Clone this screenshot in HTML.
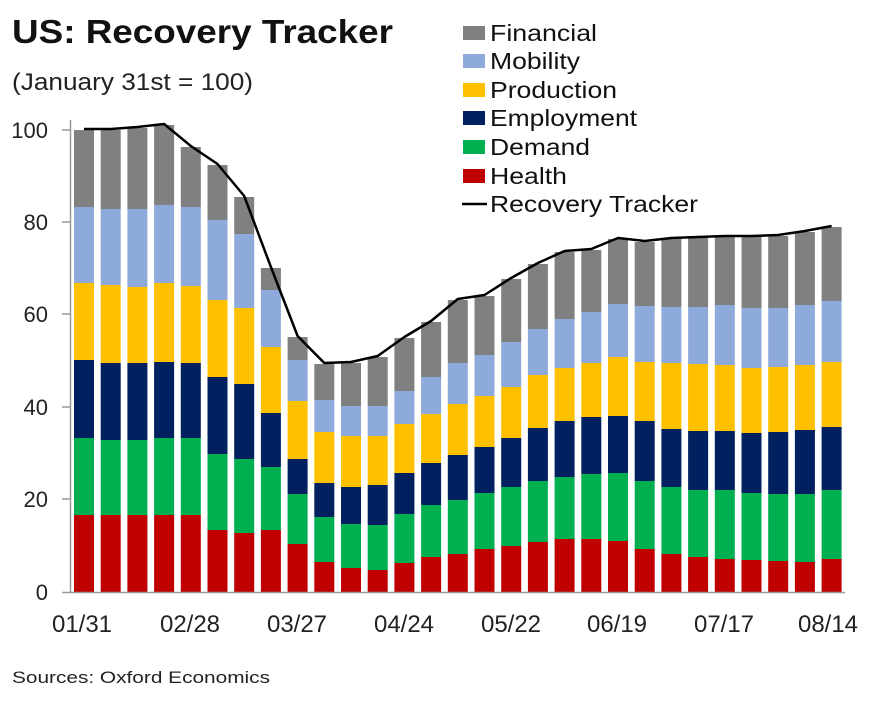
<!DOCTYPE html>
<html><head><meta charset="utf-8"><style>body{margin:0;background:#fff}svg{display:block}</style></head><body>
<svg id="s" width="888" height="710" xmlns="http://www.w3.org/2000/svg" font-family="Liberation Sans, Arial, sans-serif">
<rect width="888" height="710" fill="#fff"/>
<g id="bars"></g>
<line x1="70.5" y1="120" x2="70.5" y2="592" stroke="#999" stroke-width="1.5"/>
<line x1="62" y1="592.5" x2="845" y2="592.5" stroke="#999" stroke-width="1.5"/>
<g stroke="#999" stroke-width="1.5">
<line x1="62" y1="130" x2="70" y2="130"/><line x1="62" y1="222" x2="70" y2="222"/><line x1="62" y1="314" x2="70" y2="314"/><line x1="62" y1="407" x2="70" y2="407"/><line x1="62" y1="499" x2="70" y2="499"/>
</g>
<polyline id="ln" fill="none" stroke="#000" stroke-width="2.5" stroke-linejoin="round"/>
<g font-size="22" fill="#222" text-anchor="end">
<text x="48" y="138">100</text><text x="48" y="230">80</text><text x="48" y="322">60</text><text x="48" y="415">40</text><text x="48" y="507">20</text><text x="48" y="600">0</text>
</g>
<g font-size="24" fill="#222" text-anchor="middle">
<text x="82" y="632">01/31</text><text x="190" y="632">02/28</text><text x="297" y="632">03/27</text><text x="404" y="632">04/24</text><text x="511" y="632">05/22</text><text x="617" y="632">06/19</text><text x="724" y="632">07/17</text><text x="828" y="632">08/14</text>
</g>
<text x="12" y="43" font-size="33" font-weight="bold" fill="#111" textLength="381" lengthAdjust="spacingAndGlyphs">US: Recovery Tracker</text>
<text x="12" y="90" font-size="24" fill="#222" textLength="241" lengthAdjust="spacingAndGlyphs">(January 31st = 100)</text>
<text x="12" y="683" font-size="17" fill="#222" textLength="258" lengthAdjust="spacingAndGlyphs">Sources: Oxford Economics</text>
<g font-size="23" fill="#111">
<rect x="463" y="26" width="22" height="14" fill="#808080"/><text x="490" y="41" textLength="107" lengthAdjust="spacingAndGlyphs">Financial</text>
<rect x="463" y="54" width="22" height="14" fill="#8eaadb"/><text x="490" y="69" textLength="90" lengthAdjust="spacingAndGlyphs">Mobility</text>
<rect x="463" y="83" width="22" height="14" fill="#ffc000"/><text x="490" y="98" textLength="127" lengthAdjust="spacingAndGlyphs">Production</text>
<rect x="463" y="111" width="22" height="14" fill="#002060"/><text x="490" y="126" textLength="147" lengthAdjust="spacingAndGlyphs">Employment</text>
<rect x="463" y="140" width="22" height="14" fill="#00b050"/><text x="490" y="155" textLength="100" lengthAdjust="spacingAndGlyphs">Demand</text>
<rect x="463" y="169" width="22" height="14" fill="#c00000"/><text x="490" y="184" textLength="77" lengthAdjust="spacingAndGlyphs">Health</text>
<line x1="462" y1="204" x2="487" y2="204" stroke="#000" stroke-width="2.5"/><text x="490" y="212" textLength="208" lengthAdjust="spacingAndGlyphs">Recovery Tracker</text>
</g>
</svg>
<script>
var d=[[515,438,360,283,207,130],[515,440,363,285,209,130],[515,440,363,287,209,128],[515,438,362,283,205,125],[515,438,363,286,207,147],[530,454,377,300,220,165],[533,459,384,308,234,197],[530,467,413,347,290,268],[544,494,459,401,360,337],[562,517,483,432,400,364],[568,524,487,436,406,363],[570,525,485,436,406,357],[563,514,473,424,391,338],[557,505,463,414,377,322],[554,500,455,404,363,300],[549,493,447,396,355,296],[546,487,438,387,342,279],[542,481,428,375,329,264],[539,477,421,368,319,252],[539,474,417,363,312,250],[541,473,416,357,304,239],[549,481,421,362,306,242],[554,487,429,363,307,239],[557,490,431,364,307,238],[559,490,431,365,305,237],[560,493,433,368,308,237],[561,494,432,367,308,236],[562,494,430,365,305,232],[559,490,427,362,301,227]];
var c=["#c00000","#00b050","#002060","#ffc000","#8eaadb","#808080"];
var g=document.getElementById("bars"),h="",pts=[];
for(var i=0;i<d.length;i++){var x=74+26.7*i,prev=592;
for(var k=0;k<6;k++){h+='<rect x="'+x.toFixed(1)+'" y="'+d[i][k]+'" width="20" height="'+(prev-d[i][k])+'" fill="'+c[k]+'"/>';prev=d[i][k];}
pts.push((x+10).toFixed(1)+","+(d[i][5]-1));}
g.innerHTML=h;document.getElementById("ln").setAttribute("points",pts.join(" "));
</script>
</body></html>
